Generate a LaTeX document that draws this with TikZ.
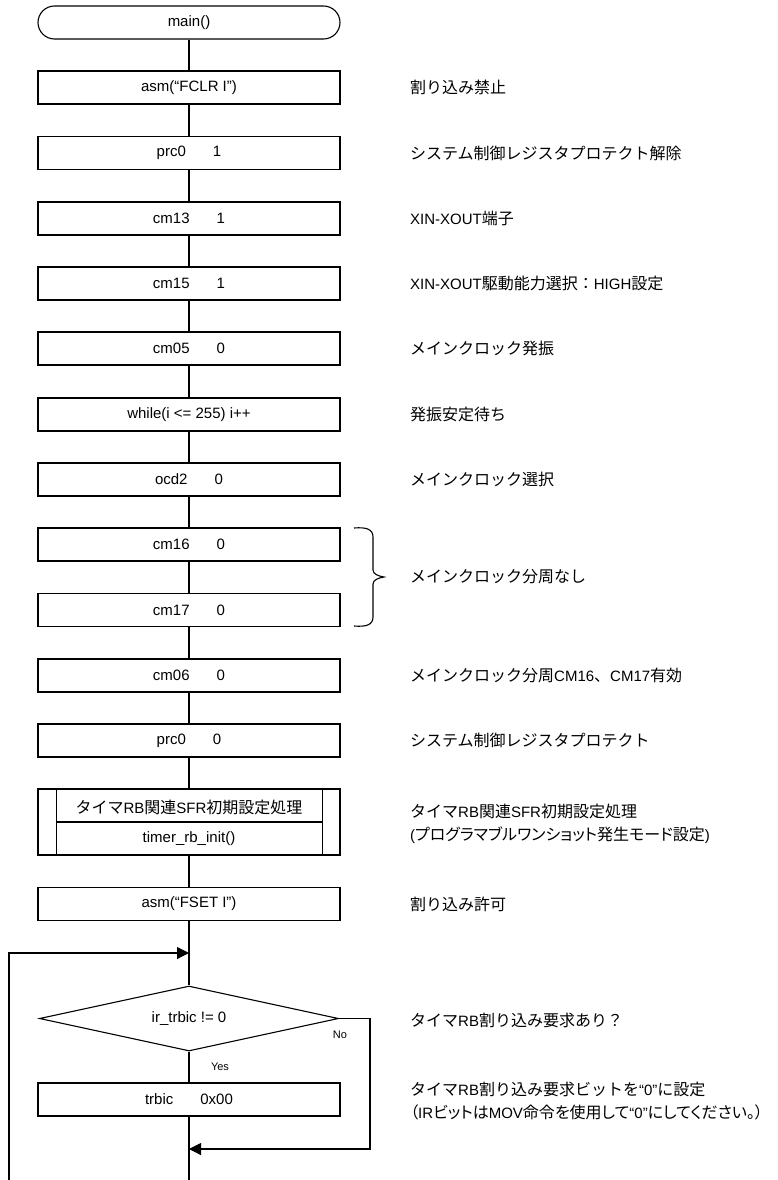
\documentclass[tikz,border=0pt]{standalone}
\usepackage{fontspec}
\setmainfont{Liberation Sans}
\newfontfamily\cjkfont{Noto Sans CJK JP}
\newfontfamily\cjkpfont[RawFeature=+palt]{Noto Sans CJK JP}
\usetikzlibrary{shapes.geometric,shapes.misc,arrows.meta}
\newcommand\J[1]{{\cjkfont\fontsize{16}{20}\selectfont #1}}
\newcommand\JP[1]{{\cjkpfont\fontsize{16}{20}\selectfont #1}}
\newcommand\asg[2]{#1\hspace{27pt}#2}
\begin{document}
\begin{tikzpicture}[x=1pt,y=-1pt,
  every node/.style={font=\fontsize{15}{18}\selectfont},
  proc/.style={draw,line width=1.1pt,minimum width=302pt,minimum height=33pt,inner sep=0pt},
  term/.style={draw,line width=1.1pt,rounded rectangle,minimum width=302pt,minimum height=33pt,inner sep=0pt},
  subr/.style={draw,line width=1.1pt,minimum width=302pt,minimum height=66pt,inner sep=0pt},
  decis/.style={draw,line width=1.1pt,diamond,minimum width=299pt,minimum height=65pt,inner sep=0pt,aspect=4.6},
  cmt/.style={anchor=west,inner sep=0pt,align=left},
  lbl/.style={font=\fontsize{11}{13}\selectfont,inner sep=0pt},
  conn/.style={line width=1.1pt},
  arr/.style={line width=1.1pt,-{Triangle[length=12pt,width=12pt]}}]
\useasboundingbox (0,0) rectangle (778,1180);

% flow nodes
\node[term] (main) at (189,22.5) {main()};
\node[proc] (b1) at (189,87.5) {asm(“FCLR I”)};
\node[proc] (b2) at (189,153) {\asg{prc0}{1}};
\node[proc] (b3) at (189,218.5) {\asg{cm13}{1}};
\node[proc] (b4) at (189,283.5) {\asg{cm15}{1}};
\node[proc] (b5) at (189,348.5) {\asg{cm05}{0}};
\node[proc] (b6) at (189,414.5) {while(i <= 255) i++};
\node[proc] (b7) at (189,479.5) {\asg{ocd2}{0}};
\node[proc] (b8) at (189,544.5) {\asg{cm16}{0}};
\node[proc] (b9) at (189,610) {\asg{cm17}{0}};
\node[proc] (b10) at (189,675.5) {\asg{cm06}{0}};
\node[proc] (b11) at (189,740.5) {\asg{prc0}{0}};
\node[subr] (sub) at (189,822) {};
\draw[conn] ([xshift=19pt]sub.north west) -- ([xshift=19pt]sub.south west);
\draw[conn] ([xshift=-18pt]sub.north east) -- ([xshift=-18pt]sub.south east);
\draw[conn] ([xshift=19pt]sub.west) -- ([xshift=-18pt]sub.east);
\node (subt) at (189,807) {\J{タイマ}RB\J{関連}SFR\J{初期設定処理}};
\node (subb) at (189,839) {timer\_rb\_init()};
\node[proc] (b12) at (189,904) {asm(“FSET I”)};
\node[decis] (dec) at (189,1018.5) {ir\_trbic != 0};
\node[proc] (b13) at (189,1099.5) {\asg{trbic}{0x00}};

% connectors
\foreach \a/\b in {main/b1,b1/b2,b2/b3,b3/b4,b4/b5,b5/b6,b6/b7,b7/b8,b8/b9,b9/b10,b10/b11,b11/sub,sub/b12,b12/dec,dec/b13}
  \draw[conn] (\a.south) -- (\b.north);
\coordinate (cb) at (189,1180);
\draw[conn] (b13.south) -- (cb);
\coordinate (lb) at (9,1180);
\coordinate (lt) at (9,953);
\draw[arr] (lb) -- (lt) -- (lt -| dec.north);
\coordinate (nr) at (370,1149);
\draw[arr] (dec.east) -| (nr) -- (nr -| dec.south);
\node[lbl] (yes) at (220,1067) {Yes};
\node[lbl] (no) at (340,1035) {No};

% brace
\coordinate (br) at (384,577);
\draw[line width=1.1pt] (354,528) .. controls (366,527) and (373,529) .. (373,537)
  -- (373,570) .. controls (373,574) and (378,576) .. (br)
  .. controls (378,578) and (373,580) .. (373,584)
  -- (373,617) .. controls (373,625) and (366,627) .. (354,626);

% comments
\node[cmt] (c1) at (410,87.5) {\J{割り込み禁止}};
\node[cmt] (c2) at (410,153) {\J{システム制御レジスタプロテクト解除}};
\node[cmt] (c3) at (410,218.5) {XIN-XOUT\J{端子}};
\node[cmt] (c4) at (410,283.5) {XIN-XOUT\J{駆動能力選択：}HIGH\J{設定}};
\node[cmt] (c5) at (410,348.5) {\J{メインクロック発振}};
\node[cmt] (c6) at (410,414.5) {\J{発振安定待ち}};
\node[cmt] (c7) at (410,479.5) {\J{メインクロック選択}};
\node[cmt] (c8) at (410,577) {\J{メインクロック分周なし}};
\node[cmt] (c9) at (410,675.5) {\J{メインクロック分周}CM16\J{、}CM17\J{有効}};
\node[cmt] (c10) at (410,740.5) {\J{システム制御レジスタプロテクト}};
\node[cmt,font=\fontsize{15}{23}\selectfont] (c11) at (410,823.5) {\J{タイマ}RB\J{関連}SFR\J{初期設定処理}\\(\JP{プログラマブルワンショット発生モード設定})};
\node[cmt] (c12) at (410,904) {\J{割り込み許可}};
\node[cmt] (c13) at (410,1020) {\J{タイマ}RB\J{割り込み要求あり？}};
\node[cmt,font=\fontsize{15}{23}\selectfont] (c14) at (410,1101.5) {\J{タイマ}RB\J{割り込み要求ビットを}“0”\J{に設定}\\\JP{（}IR\JP{ビットは}MOV\JP{命令を使用して}“0”\JP{にしてください。）}};
\end{tikzpicture}
\end{document}
